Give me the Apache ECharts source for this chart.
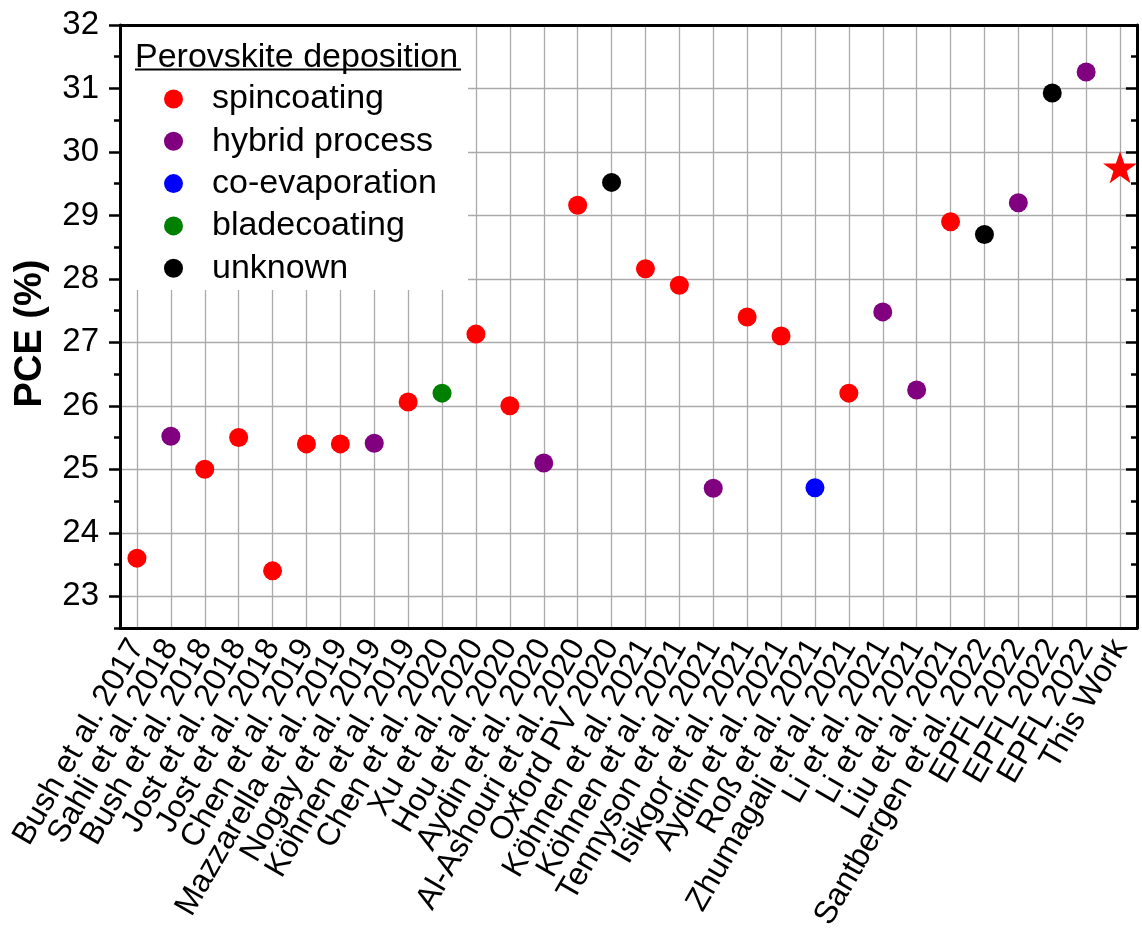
<!DOCTYPE html>
<html><head><meta charset="utf-8">
<script src="https://cdn.jsdelivr.net/npm/echarts@6/dist/echarts.min.js"></script>
<style>html,body{margin:0;padding:0;background:#fff}#c{width:1142px;height:933px}</style>
</head><body><div id="c"></div>
<script>
const categories = ['Bush et al. 2017','Sahli et al. 2018','Bush et al. 2018','Jost et al. 2018','Jost et al. 2018','Chen et al. 2019','Mazzarella et al. 2019','Nogay et al. 2019','Köhnen et al. 2019','Chen et al. 2020','Xu et al. 2020','Hou et al. 2020','Aydin et al. 2020','Al-Ashouri et al. 2020','Oxford PV 2020','Köhnen et al. 2021','Köhnen et al. 2021','Tennyson et al. 2021','Isikgor et al. 2021','Aydin et al. 2021','Roß et al. 2021','Zhumagali et al. 2021','Li et al. 2021','Li et al. 2021','Liu et al. 2021','Santbergen et al. 2022','EPFL 2022','EPFL 2022','EPFL 2022','This Work'];
const pce = [23.6,25.52,25.0,25.5,23.4,25.4,25.4,25.41,26.06,26.2,27.13,26.0,25.1,29.16,29.52,28.16,27.9,24.7,27.4,27.1,24.71,26.2,27.48,26.25,28.9,28.7,29.2,30.93,31.26,29.76];
const method = ['spincoating','hybrid process','spincoating','spincoating','spincoating','spincoating','spincoating','hybrid process','spincoating','bladecoating','spincoating','spincoating','hybrid process','spincoating','unknown','spincoating','spincoating','hybrid process','spincoating','spincoating','co-evaporation','spincoating','hybrid process','hybrid process','spincoating','unknown','hybrid process','unknown','hybrid process','this work'];
const methods = ['spincoating','hybrid process','co-evaporation','bladecoating','unknown'];
const methodColors = ['#ff0000','#800080','#0000ff','#008000','#000000'];
const yTicks = [23,24,25,26,27,28,29,30,31,32];
const legendTitle = 'Perovskite deposition';
const yName = 'PCE (%)';

const FONT = 'Liberation Sans, Arial, sans-serif';
const STAR = 'path://M50,0 L61.8,35.1 L98.1,35.1 L68.7,56.8 L79.4,91.4 L50,70 L20.6,91.4 L31.3,56.8 L1.9,35.1 L38.2,35.1 Z';

const series = methods.map((m, k) => ({
  name: m, type: 'scatter', xAxisIndex: 0, yAxisIndex: 0,
  symbol: 'circle', symbolSize: 19,
  itemStyle: {color: methodColors[k], opacity: 1},
  data: pce.map((v, i) => method[i] === m ? [i, v] : null).filter(d => d)
}));
series.push({
  name: 'This Work', type: 'scatter', xAxisIndex: 0, yAxisIndex: 0,
  symbol: STAR, symbolSize: [34, 32], clip: false,
  itemStyle: {color: '#ff0000', opacity: 1},
  data: pce.map((v, i) => method[i] === 'this work' ? [i, v] : null).filter(d => d)
});

const black = '#000';
const gridColor = '#aaaaaa';
const chart = echarts.init(document.getElementById('c'), null, {renderer: 'canvas'});
chart.setOption({
  animation: false,
  backgroundColor: '#fff',
  textStyle: {fontFamily: FONT},
  grid: {left: 120, right: 5, top: 25, bottom: 301, containLabel: false},
  title: {text: legendTitle, left: 135, top: 38, padding: 0, z: 8,
    textStyle: {fontFamily: FONT, fontSize: 34, fontWeight: 'normal', color: black, lineHeight: 40}},
  legend: {
    data: methods, orient: 'vertical', left: 164, top: 81, padding: 0, itemGap: 6.3,
    itemWidth: 19, itemHeight: 19, icon: 'circle', selectedMode: false, z: 8,
    textStyle: {fontFamily: FONT, fontSize: 34, color: black, lineHeight: 36, padding: [0, 0, 0, 24]}
  },
  graphic: [
    {type: 'rect', z: 3, shape: {x: 122, y: 27, width: 346, height: 263}, style: {fill: '#fff'}},
    {type: 'line', z: 9, shape: {x1: 135, y1: 69.5, x2: 461, y2: 69.5}, style: {stroke: black, lineWidth: 2}}
  ],
  xAxis: [
    {type: 'category', data: categories, position: 'bottom', boundaryGap: true,
      axisLine: {onZero: false, lineStyle: {color: black, width: 3}},
      axisTick: {alignWithLabel: true, length: 12, lineStyle: {color: black, width: 2.5}},
      axisLabel: {interval: 0, rotate: 60, margin: 14, fontSize: 32, color: black, fontFamily: FONT},
      splitLine: {show: false}, z: 5},
    {type: 'category', data: categories, position: 'bottom', boundaryGap: true,
      axisLine: {show: false, onZero: false},
      axisTick: {length: 6, lineStyle: {color: black, width: 2.5}},
      axisLabel: {show: false}, splitLine: {show: false}, z: 5},
    {type: 'value', position: 'bottom', min: -0.5, max: categories.length - 0.5, splitNumber: categories.length,
      minInterval: 1, maxInterval: 1,
      axisLine: {show: false, onZero: false}, axisTick: {show: false}, axisLabel: {show: false},
      splitLine: {show: true, lineStyle: {color: gridColor, width: 1.3}}, z: 0},
    {type: 'category', data: categories, position: 'top', boundaryGap: true,
      axisLine: {onZero: false, lineStyle: {color: black, width: 3}},
      axisTick: {alignWithLabel: true, inside: true, length: 7, lineStyle: {color: black, width: 2.5}},
      axisLabel: {show: false}, splitLine: {show: false}, z: 5}
  ],
  yAxis: [
    {type: 'value', position: 'left', min: 22.5, max: 32, splitNumber: 10, minInterval: 1, maxInterval: 1,
      name: yName, nameLocation: 'middle', nameGap: 70,
      nameTextStyle: {fontFamily: FONT, fontSize: 38, fontWeight: 'bold', color: black, padding: [0, 14, 0, 0]},
      axisLine: {onZero: false, lineStyle: {color: black, width: 3}},
      axisTick: {customValues: yTicks, length: 11, lineStyle: {color: black, width: 2.5}},
      axisLabel: {customValues: yTicks, margin: 21, fontSize: 33, color: black, fontFamily: FONT},
      splitLine: {show: false}, z: 5},
    {type: 'value', position: 'left', min: 22.5, max: 32, interval: 0.5,
      axisLine: {show: false, onZero: false},
      axisTick: {length: 6, lineStyle: {color: black, width: 2.5}},
      axisLabel: {show: false}, splitLine: {show: false}, z: 5},
    {type: 'value', position: 'right', min: 22.5, max: 32, splitNumber: 10, minInterval: 1, maxInterval: 1,
      axisLine: {onZero: false, lineStyle: {color: black, width: 3}},
      axisTick: {customValues: yTicks, inside: true, length: 11, lineStyle: {color: black, width: 2.5}},
      axisLabel: {show: false}, splitLine: {show: false}, z: 5},
    {type: 'value', position: 'right', min: 22.5, max: 32, interval: 0.5,
      axisLine: {show: false, onZero: false},
      axisTick: {inside: true, length: 6, lineStyle: {color: black, width: 2.5}},
      axisLabel: {show: false}, splitLine: {show: false}, z: 5},
    {type: 'value', position: 'left', min: 22.5, max: 32, splitNumber: 10, minInterval: 1, maxInterval: 1,
      axisLine: {show: false, onZero: false}, axisTick: {show: false}, axisLabel: {show: false},
      splitLine: {show: true, lineStyle: {color: gridColor, width: 1.3}}, z: 0}
  ],
  series: series
});
</script></body></html>
